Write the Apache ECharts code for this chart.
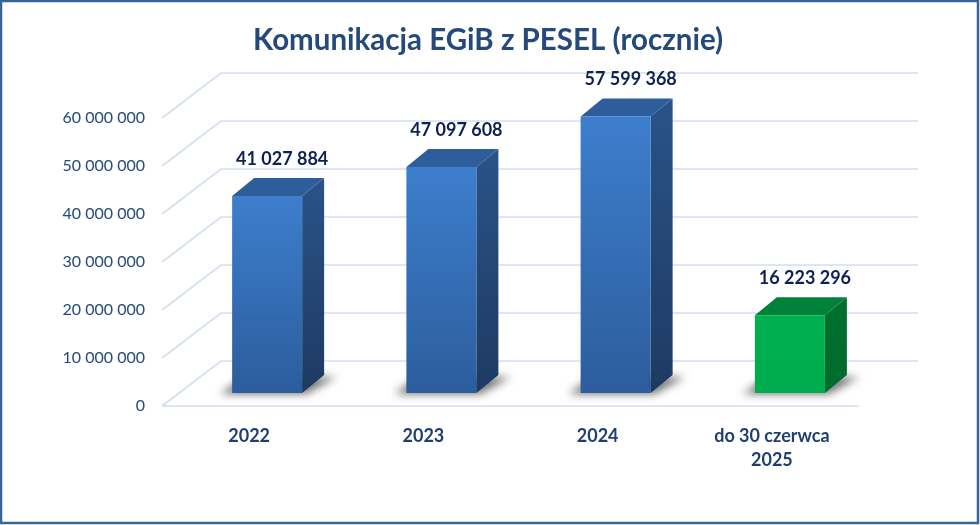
<!DOCTYPE html>
<html>
<head>
<meta charset="utf-8">
<script src="https://cdn.jsdelivr.net/npm/echarts@6/dist/echarts.min.js"></script>
<style>
  html, body { margin: 0; padding: 0; background: #fff; }
  #chart { width: 980px; height: 525px; }
</style>
</head>
<body>
<div id="chart"></div>
<script>
// dane
const categories = ['2022', '2023', '2024', 'do 30 czerwca\n2025'];
const values = [41027884, 47097608, 57599368, 16223296];
const partialYear = [false, false, false, true];
const yTicks = [0, 10000000, 20000000, 30000000, 40000000, 50000000, 60000000];

const FONT = 'Lato, "Open Sans", sans-serif';
const DEPTH_X = 59, DEPTH_Y = -45;   // glebokosc sciany tylnej
const BAR_W = 70, BAR_DX = 22, BAR_DY = -18;
const SHIFT = 2000;                  // cien rysowany poza ekranem, przesuniety z powrotem

function fmt(v) {
    return String(v).replace(/\B(?=(\d{3})+(?!\d))/g, ' ');
}

let myChart = echarts.init(document.getElementById('chart'));

function renderGrid(params, api) {
    let cs = params.coordSys;
    let y = api.coord([0, api.value(1)])[1];
    let style = {stroke: '#D3DEF1', lineWidth: 1.6, fill: null};
    let children = [{
        type: 'polyline',
        shape: {points: [[cs.x, y], [cs.x + DEPTH_X, y + DEPTH_Y], [cs.x + cs.width + DEPTH_X, y + DEPTH_Y]]},
        style: style
    }];
    if (api.value(1) === 0) {
        children.push({
            type: 'line',
            shape: {x1: cs.x, y1: y, x2: cs.x + cs.width, y2: y},
            style: style
        });
    }
    return {type: 'group', children: children};
}

function renderBar(params, api) {
    let i = api.value(0);
    let base = api.coord([i, 0]);
    let top = api.coord([i, api.value(1)]);
    let x0 = base[0] + 18 - BAR_W / 2, x1 = x0 + BAR_W;
    let yb = base[1] - 13, yt = top[1] - 13;
    let green = partialYear[i];
    let front = green
        ? new echarts.graphic.LinearGradient(0, 0, 0, 1, [{offset: 0, color: '#00B050'}, {offset: 1, color: '#00AC4E'}])
        : new echarts.graphic.LinearGradient(0, 0, 0, 1, [{offset: 0, color: '#3D7ECD'}, {offset: 1, color: '#2C5D9C'}]);
    let side = green
        ? new echarts.graphic.LinearGradient(0, 0, 0, 1, [{offset: 0, color: '#00702F'}, {offset: 1, color: '#006B2D'}])
        : new echarts.graphic.LinearGradient(0, 0, 0, 1, [{offset: 0, color: '#2A5388'}, {offset: 1, color: '#1E3A62'}]);
    let topColor = green ? '#00823A' : '#2D5E9B';
    let sh = [[x0 - 12, yb + 1], [x1 + 4, yb + 1], [x1 + BAR_DX + 12, yb + BAR_DY + 2], [x0 + 12, yb + BAR_DY + 2]];
    return {
        type: 'group',
        children: [
            {
                type: 'polygon',
                shape: {points: sh.map(p => [p[0] - SHIFT, p[1]])},
                style: {fill: '#000', shadowBlur: 9, shadowColor: 'rgba(0,0,0,0.55)', shadowOffsetX: SHIFT}
            },
            {
                type: 'polygon',
                shape: {points: [[x1, yb], [x1 + BAR_DX, yb + BAR_DY], [x1 + BAR_DX, yt + BAR_DY], [x1, yt]]},
                style: {fill: side}
            },
            {
                type: 'polygon',
                shape: {points: [[x0, yt], [x1, yt], [x1 + BAR_DX, yt + BAR_DY], [x0 + BAR_DX, yt + BAR_DY]]},
                style: {fill: topColor}
            },
            {
                type: 'rect',
                shape: {x: x0, y: yt, width: BAR_W, height: yb - yt},
                style: {fill: front}
            },
            {
                type: 'text',
                style: {
                    text: fmt(api.value(1)),
                    x: x0 + 50, y: yt + BAR_DY - 19,
                    align: 'center', verticalAlign: 'middle',
                    fontFamily: FONT, fontWeight: 'bold', fontSize: 18,
                    fill: '#0D2152'
                }
            }
        ]
    };
}

let option = {
    backgroundColor: '#fff',
    animation: false,
    title: {
        text: 'Komunikacja EGiB z PESEL (rocznie)',
        left: 248,
        top: 20,
        textStyle: {fontFamily: FONT, fontWeight: 'bold', fontSize: 29.5, color: '#24497A'}
    },
    grid: {left: 162, right: 121, top: 118, bottom: 119},
    xAxis: {
        type: 'category',
        data: categories,
        axisLine: {show: false},
        axisTick: {show: false},
        axisLabel: {
            margin: 18,
            fontFamily: FONT, fontWeight: 'bold', fontSize: 18,
            color: '#1F3F70', lineHeight: 24
        }
    },
    yAxis: {
        type: 'value',
        min: 0,
        max: 60000000,
        interval: 10000000,
        axisLine: {show: false},
        axisTick: {show: false},
        splitLine: {show: false},
        axisLabel: {
            margin: 17,
            fontFamily: FONT, fontSize: 16, color: '#24497A',
            formatter: fmt
        }
    },
    series: [
        {
            type: 'custom',
            renderItem: renderGrid,
            data: yTicks.map(v => [0, v]),
            silent: true,
            z: 1
        },
        {
            type: 'custom',
            renderItem: renderBar,
            data: values.map((v, i) => [i, v]),
            z: 2
        }
    ],
    graphic: [{
        type: 'rect',
        shape: {x: 1, y: 1, width: 977, height: 522},
        style: {fill: null, stroke: '#36659C', lineWidth: 2.5},
        z: 100
    }]
};

myChart.setOption(option);
</script>
</body>
</html>
